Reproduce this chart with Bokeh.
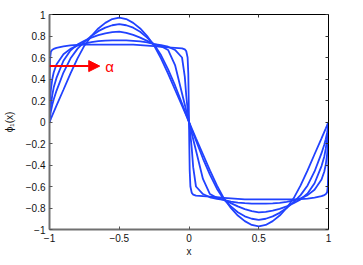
from bokeh.plotting import figure
from bokeh.models import LinearAxis, FixedTicker, Range1d, Label, Arrow, NormalHead
from bokeh.embed import file_html
from bokeh.resources import INLINE

# ---- data ----
x = [-1, -0.998, -0.995, -0.99, -0.98, -0.97, -0.95, -0.9, -0.85, -0.8, -0.75, -0.7, -0.65, -0.6, -0.55, -0.5,
     -0.45, -0.4, -0.35, -0.3, -0.25, -0.2, -0.15, -0.1, -0.05, -0.03, -0.02, -0.01, -0.005, -0.002, 0,
     0.002, 0.005, 0.01, 0.02, 0.03, 0.05, 0.1, 0.15, 0.2, 0.25, 0.3, 0.35, 0.4, 0.45, 0.5,
     0.55, 0.6, 0.65, 0.7, 0.75, 0.8, 0.85, 0.9, 0.95, 0.97, 0.98, 0.99, 0.995, 0.998, 1]

phi_e = [0, 0.006, 0.015, 0.03, 0.061, 0.091, 0.152, 0.30, 0.45, 0.59, 0.71, 0.80, 0.87, 0.922, 0.958, 0.97,
         0.958, 0.922, 0.87, 0.80, 0.71, 0.59, 0.45, 0.30, 0.152, 0.091, 0.061, 0.03, 0.015, 0.006, 0,
         -0.006, -0.015, -0.03, -0.061, -0.091, -0.152, -0.30, -0.45, -0.59, -0.71, -0.80, -0.87, -0.922, -0.958, -0.97,
         -0.958, -0.922, -0.87, -0.80, -0.71, -0.59, -0.45, -0.30, -0.152, -0.091, -0.061, -0.03, -0.015, -0.006, 0]

phi_d = [0, 0.03, 0.06, 0.10, 0.16, 0.21, 0.29, 0.46, 0.59, 0.68, 0.745, 0.80, 0.845, 0.878, 0.90, 0.91,
         0.90, 0.877, 0.84, 0.785, 0.72, 0.62, 0.49, 0.34, 0.172, 0.103, 0.069, 0.035, 0.017, 0.007, 0,
         -0.007, -0.017, -0.035, -0.069, -0.103, -0.172, -0.34, -0.49, -0.62, -0.72, -0.785, -0.84, -0.877, -0.90, -0.91,
         -0.90, -0.878, -0.845, -0.80, -0.745, -0.68, -0.59, -0.46, -0.29, -0.21, -0.16, -0.10, -0.06, -0.03, 0]

phi_c = [0, 0.07, 0.11, 0.16, 0.25, 0.32, 0.41, 0.57, 0.665, 0.72, 0.755, 0.785, 0.808, 0.825, 0.836, 0.84,
         0.83, 0.81, 0.785, 0.755, 0.725, 0.705, 0.67, 0.53, 0.265, 0.16, 0.106, 0.053, 0.027, 0.011, 0,
         -0.011, -0.027, -0.053, -0.106, -0.16, -0.265, -0.53, -0.67, -0.705, -0.725, -0.755, -0.785, -0.81, -0.83, -0.84,
         -0.836, -0.825, -0.808, -0.785, -0.755, -0.72, -0.665, -0.57, -0.41, -0.32, -0.25, -0.16, -0.11, -0.07, 0]

phi_b = [0, 0.15, 0.22, 0.30, 0.40, 0.46, 0.535, 0.63, 0.68, 0.71, 0.73, 0.743, 0.752, 0.757, 0.759, 0.76,
         0.759, 0.755, 0.75, 0.74, 0.725, 0.715, 0.70, 0.67, 0.60, 0.42, 0.25, 0.12, 0.06, 0.025, 0,
         -0.025, -0.06, -0.12, -0.25, -0.42, -0.60, -0.67, -0.70, -0.715, -0.725, -0.74, -0.75, -0.755, -0.759, -0.76,
         -0.759, -0.757, -0.752, -0.743, -0.73, -0.71, -0.68, -0.63, -0.535, -0.46, -0.40, -0.30, -0.22, -0.15, 0]

phi_a = [0, 0.45, 0.60, 0.655, 0.672, 0.68, 0.69, 0.703, 0.712, 0.718, 0.72, 0.72, 0.72, 0.72, 0.72, 0.72,
         0.72, 0.72, 0.715, 0.71, 0.705, 0.70, 0.695, 0.69, 0.685, 0.675, 0.66, 0.6, 0.45, 0.2, 0,
         -0.2, -0.45, -0.6, -0.66, -0.675, -0.685, -0.69, -0.695, -0.70, -0.705, -0.71, -0.715, -0.72, -0.72, -0.72,
         -0.72, -0.72, -0.72, -0.72, -0.72, -0.718, -0.712, -0.703, -0.69, -0.68, -0.672, -0.655, -0.60, -0.45, 0]

curves = [phi_e, phi_d, phi_c, phi_b, phi_a]

x_ticks = [-1, -0.5, 0, 0.5, 1]
x_tick_labels = ["\u22121", "\u22120.5", "0", "0.5", "1"]
y_ticks = [-1, -0.8, -0.6, -0.4, -0.2, 0, 0.2, 0.4, 0.6, 0.8, 1]
y_tick_labels = ["\u22121", "\u22120.8", "\u22120.6", "\u22120.4", "\u22120.2", "0", "0.2", "0.4", "0.6", "0.8", "1"]

title_text = "\u03b2 = 10"
x_label = "x"
y_label = "\u03d5\u2081(x)"
arrow_label = "\u03b1"

FONT = "Liberation Sans"
BLUE = "#2142ff"

p = figure(width=363, height=265, output_backend="svg", toolbar_location=None,
           x_range=Range1d(-1, 1), y_range=Range1d(-1, 1),
           min_border_left=47, min_border_right=35, min_border_top=14, min_border_bottom=36,
           x_axis_label=x_label, y_axis_label=y_label)
p.grid.visible = False
p.outline_line_color = None
p.background_fill_color = "white"
p.border_fill_color = "white"

for ax, ticks, labels in ((p.xaxis[0], x_ticks, x_tick_labels), (p.yaxis[0], y_ticks, y_tick_labels)):
    ax.ticker = FixedTicker(ticks=ticks)
    ax.major_label_overrides = dict(zip(ticks, labels))
    ax.major_tick_in = 3
    ax.major_tick_out = 0
    ax.minor_tick_line_color = None
    ax.axis_line_color = "#707070"
    ax.axis_line_width = 2
    ax.major_tick_line_color = "#555555"
    ax.major_label_text_font = FONT
    ax.major_label_text_font_size = "10px"
    ax.major_label_text_color = "#111111"
    ax.axis_label_text_font = FONT
    ax.axis_label_text_font_size = "10px"
    ax.axis_label_text_font_style = "normal"
    ax.axis_label_text_color = "#111111"

p.xaxis[0].major_label_standoff = 4
p.xaxis[0].axis_label_standoff = 1
p.yaxis[0].major_label_standoff = 4
p.yaxis[0].axis_label_standoff = 8

top_ax = LinearAxis(ticker=FixedTicker(ticks=x_ticks), major_label_overrides={t: "" for t in x_ticks})
right_ax = LinearAxis(ticker=FixedTicker(ticks=y_ticks), major_label_overrides={t: "" for t in y_ticks})
for ax in (top_ax, right_ax):
    ax.major_tick_in = 3
    ax.major_tick_out = 0
    ax.minor_tick_line_color = None
    ax.axis_line_color = "black"
    ax.axis_line_width = 1
    ax.major_tick_line_color = "#333333"
    ax.major_label_standoff = 0
    ax.major_label_text_font_size = "1px"
p.add_layout(top_ax, "above")
p.add_layout(right_ax, "right")

for yy in curves:
    p.line(x, yy, line_color=BLUE, line_width=1.8)

p.add_layout(Label(x=0, y=1.085, text=title_text, text_align="center", text_baseline="middle",
                   text_font=FONT, text_font_size="9px", text_color="#111111"))

p.add_layout(Arrow(x_start=-1, y_start=0.52, x_end=-0.64, y_end=0.52,
                   line_color="red", line_width=2,
                   end=NormalHead(size=11, fill_color="red", line_color="red")))
p.add_layout(Label(x=-0.6, y=0.52, text=arrow_label, text_align="left", text_baseline="middle",
                   text_font=FONT, text_font_size="15px", text_color="red"))

open("out.html", "w").write(file_html(p, INLINE))
